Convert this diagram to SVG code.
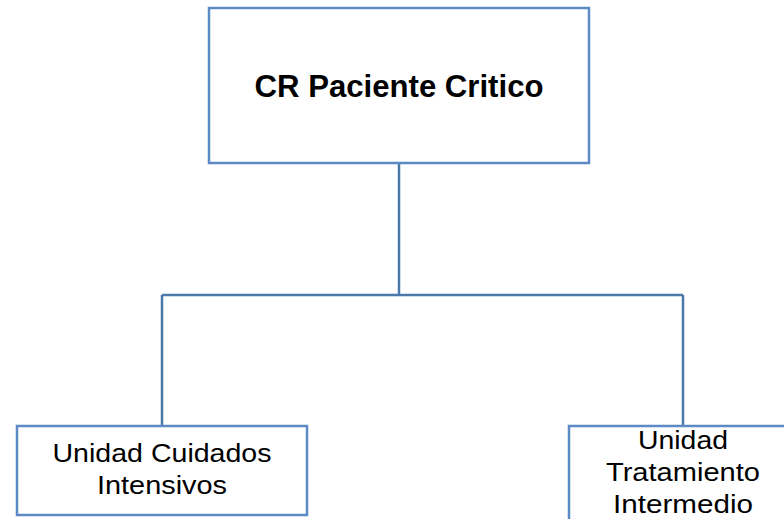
<svg xmlns="http://www.w3.org/2000/svg" width="784" height="519" viewBox="0 0 784 519">
<style>
.box{fill:#fff;stroke:#5b8ac4;stroke-width:2.5}
.con{fill:none;stroke:#4a78a8;stroke-width:2.5}
.t{font-family:"Liberation Sans",Arial,sans-serif;font-size:25px;fill:#000;text-anchor:middle}
.h{font-family:"Liberation Sans",Arial,sans-serif;font-size:31px;font-weight:bold;fill:#000;text-anchor:middle}
</style>
<rect width="784" height="519" fill="#fff"/>
<g id="connectors">
<path class="con" d="M399 164V295M162 295H683M162 295V426M683 295V426"/>
</g>
<g id="root">
<rect class="box" x="209" y="8" width="380" height="155"/>
<text class="h" x="399" y="97" textLength="289" lengthAdjust="spacingAndGlyphs">CR Paciente Critico</text>
</g>
<g id="uci">
<rect class="box" x="17" y="426" width="290" height="89"/>
<text class="t" x="162" y="462" textLength="219" lengthAdjust="spacingAndGlyphs">Unidad Cuidados</text>
<text class="t" x="162" y="494" textLength="130" lengthAdjust="spacingAndGlyphs">Intensivos</text>
</g>
<g id="uti">
<rect class="box" x="569" y="426" width="230" height="110"/>
<text class="t" x="683" y="449" textLength="90" lengthAdjust="spacingAndGlyphs">Unidad</text>
<text class="t" x="683" y="481" textLength="154" lengthAdjust="spacingAndGlyphs">Tratamiento</text>
<text class="t" x="683" y="513" textLength="140" lengthAdjust="spacingAndGlyphs">Intermedio</text>
</g>
</svg>
